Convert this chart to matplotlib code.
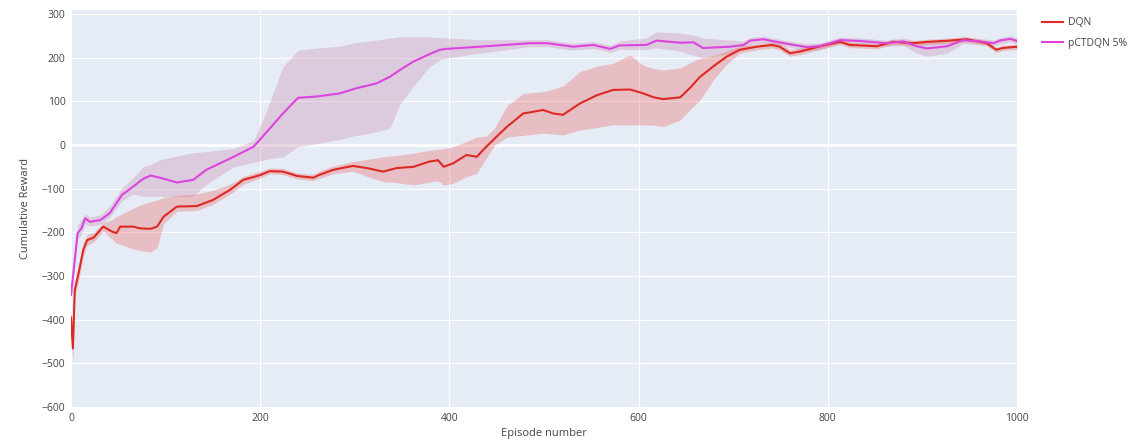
import matplotlib
matplotlib.use("Agg")
import matplotlib.pyplot as plt

# ---------------- data ----------------
dqn_x = [0, 2, 4, 8, 13, 17, 24, 34, 43, 48, 52, 66, 73, 84, 91, 98, 112, 133, 150,
         168, 182, 200, 210, 224, 239, 256, 262, 277, 298, 313, 330, 344, 362, 379,
         388, 394, 404, 418, 429, 439, 448, 461, 478, 499, 510, 520, 538, 556, 573,
         591, 605, 616, 626, 644, 654, 665, 679, 693, 707, 725, 741, 749, 760, 771,
         792, 813, 823, 852, 869, 890, 905, 929, 947, 968, 978, 985, 1000]
dqn_mean = [-395, -466, -332, -294, -240, -218, -212, -187, -198, -202, -187, -187, -191,
            -192, -187, -164, -141, -140, -126, -103, -80, -69, -60, -61, -71, -75, -69,
            -57, -48, -53, -61, -53, -50, -38, -35, -50, -42, -23, -27, -4, 15, 42, 72,
            80, 72, 69, 95, 114, 126, 127, 118, 109, 105, 109, 130, 156, 180, 202, 218,
            225, 229, 225, 210, 214, 226, 236, 229, 226, 236, 233, 236, 239, 242, 233,
            218, 222, 225]
dqn_lo = [-430, -500, -350, -310, -255, -230, -222, -197, -215, -225, -228, -238, -242,
          -245, -235, -180, -152, -150, -136, -113, -90, -76, -66, -68, -78, -82, -77,
          -66, -60, -72, -84, -86, -92, -85, -82, -92, -88, -73, -65, -30, 0, 18, 22,
          27, 25, 23, 34, 40, 46, 46, 46, 45, 42, 57, 80, 103, 149, 185, 210, 218, 222,
          217, 203, 207, 219, 230, 223, 220, 230, 227, 230, 233, 236, 227, 212, 216, 219]
dqn_hi = [-380, -440, -310, -275, -225, -205, -200, -178, -172, -164, -160, -145, -138,
          -130, -126, -120, -116, -112, -104, -90, -72, -60, -53, -54, -64, -67, -60,
          -48, -38, -33, -27, -24, -19, -12, -10, -8, -4, 8, 18, 20, 40, 90, 118, 122,
          128, 135, 168, 180, 187, 206, 182, 175, 172, 176, 188, 198, 205, 215, 226,
          232, 236, 233, 218, 222, 233, 242, 235, 232, 242, 239, 242, 245, 248, 239,
          224, 228, 231]

pct_x = [0, 7, 11, 15, 20, 31, 41, 54, 66, 76, 84, 94, 112, 129, 143, 172, 193, 207,
         224, 240, 260, 284, 302, 323, 337, 348, 362, 379, 390, 397, 432, 485, 503, 531,
         552, 570, 580, 608, 619, 644, 658, 668, 697, 711, 718, 732, 746, 764, 778, 792,
         813, 834, 862, 880, 894, 905, 926, 943, 961, 975, 982, 993, 1000]
pct_mean = [-343, -202, -191, -168, -176, -172, -156, -114, -95, -78, -70, -75, -86, -80,
            -57, -27, -4, 30, 72, 108, 111, 118, 130, 141, 156, 172, 191, 208, 218, 220,
            225, 233, 233, 225, 229, 220, 228, 229, 239, 234, 235, 222, 225, 229, 239,
            242, 236, 229, 224, 226, 240, 238, 233, 237, 226, 221, 226, 240, 237, 233,
            239, 243, 238]
pct_lo = [-355, -215, -205, -180, -186, -182, -166, -128, -112, -118, -118, -118, -118,
          -118, -90, -50, -40, -33, -27, -4, 3, 13, 22, 30, 38, 95, 134, 179, 195, 199,
          210, 225, 225, 217, 221, 212, 219, 218, 222, 215, 205, 200, 210, 218, 230,
          235, 229, 222, 215, 218, 233, 231, 226, 228, 210, 203, 210, 232, 230, 226,
          232, 236, 231]
pct_hi = [-330, -185, -170, -158, -165, -160, -140, -98, -75, -50, -45, -34, -25, -18,
          -15, -8, 10, 80, 179, 217, 222, 226, 235, 240, 245, 248, 248, 247, 246, 245,
          241, 241, 241, 233, 237, 228, 238, 245, 259, 256, 252, 245, 240, 238, 246,
          249, 243, 236, 232, 233, 247, 245, 240, 245, 238, 236, 240, 247, 244, 240,
          246, 250, 245]

series_names = ["DQN", "pCTDQN 5%"]
x_ticks = [0, 200, 400, 600, 800, 1000]
y_ticks = [-600, -500, -400, -300, -200, -100, 0, 100, 200, 300]

# ---------------- figure ----------------
plt.rcParams['font.family'] = ['Open Sans', 'DejaVu Sans']
fig = plt.figure(figsize=(11.37, 4.41), dpi=100)
ax = fig.add_axes([71 / 1137, 1 - 407 / 441, (1017 - 71) / 1137, (407 - 10) / 441])
ax.set_facecolor('#E5ECF6')

red = '#DC2A22'
mag = '#DD44DD'

ax.fill_between(pct_x, pct_lo, pct_hi, color='#C77FA6', alpha=0.30, linewidth=0, zorder=2)
ax.fill_between(dqn_x, dqn_lo, dqn_hi, color='#EE6A6A', alpha=0.35, linewidth=0, zorder=2)
ax.plot(dqn_x, dqn_mean, color=red, lw=1.5, label=series_names[0], zorder=4)
ax.plot(pct_x, pct_mean, color=mag, lw=1.5, label=series_names[1], zorder=4)

ax.set_xlim(0, 1000)
ax.set_ylim(-600, 309)
ax.set_xticks(x_ticks)
ax.set_yticks(y_ticks)
ax.set_xticklabels([str(t) for t in x_ticks])
ax.set_yticklabels([str(t).replace('-', '\u2212') for t in y_ticks])
ax.grid(True, color='white', lw=0.8, zorder=1)
ax.axhline(0, color='white', lw=1.8, zorder=1)
ax.set_axisbelow(True)
for s in ax.spines.values():
    s.set_visible(False)
ax.tick_params(length=0, labelsize=7.5, labelcolor='#444444', pad=4)

ax.set_xlabel('Episode number', fontsize=8, color='#444444', labelpad=3)
ax.set_ylabel('Cumulative Reward', fontsize=8, color='#444444', labelpad=8)

leg = fig.legend(loc='upper left', bbox_to_anchor=(1033 / 1137, 1 - 8 / 441),
                 frameon=False, fontsize=7.5, handlelength=2.0, labelspacing=0.9,
                 handletextpad=0.5)
for t in leg.get_texts():
    t.set_color('#444444')

fig.savefig('out.png', dpi=100, facecolor='white')
